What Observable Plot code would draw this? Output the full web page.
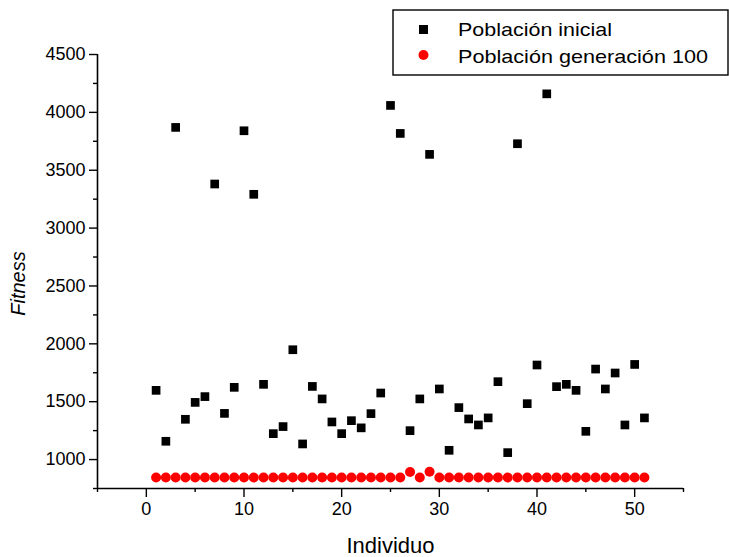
<!DOCTYPE html>
<html><head><meta charset="utf-8">
<script src="https://cdn.jsdelivr.net/npm/d3@7"></script>
<script src="https://cdn.jsdelivr.net/npm/@observablehq/plot@0.6"></script>
<style>body{margin:0;background:#fff;}</style>
</head><body><div id="chart"></div>
<script>
const individuo = [1,2,3,4,5,6,7,8,9,10,11,12,13,14,15,16,17,18,19,20,21,22,23,24,25,26,27,28,29,30,31,32,33,34,35,36,37,38,39,40,41,42,43,44,45,46,47,48,49,50,51];
const poblacionInicial = [1598,1158,3870,1348,1494,1544,3381,1399,1624,3841,3292,1650,1224,1285,1949,1135,1632,1524,1325,1224,1336,1274,1397,1575,4060,3818,1250,1524,3637,1610,1080,1449,1351,1299,1360,1673,1060,3729,1483,1817,4160,1630,1650,1598,1244,1782,1610,1748,1299,1822,1360];
const poblacionGen100 = [845,845,845,845,845,845,845,845,845,845,845,845,845,845,845,845,845,845,845,845,845,845,845,845,845,845,893,845,895,845,845,845,845,845,845,845,845,845,845,845,845,845,845,845,845,845,845,845,845,845,845];
const xMajorTicks = [0,10,20,30,40,50];
const xMinorTicks = [-5,5,15,25,35,45,55];
const yMajorTicks = [1000,1500,2000,2500,3000,3500,4000,4500];
const yMinorTicks = [750,1250,1750,2250,2750,3250,3750,4250];
const seriesNames = ["Población inicial","Población generación 100"];
const xTitle = "Individuo";
const yTitle = "Fitness";

const dataInicial = individuo.map((x,i)=>({x, y: poblacionInicial[i]}));
const dataGen = individuo.map((x,i)=>({x, y: poblacionGen100[i]}));

const plot = Plot.plot({
  width: 729, height: 557,
  marginLeft: 97, marginRight: 46, marginTop: 54, marginBottom: 69,
  style: {fontFamily: "'Liberation Sans', Arial, sans-serif", fontSize: "18px", color: "#000", background: "#fff", overflow: "visible"},
  x: {domain: [-5, 55]},
  y: {domain: [750, 4500]},
  marks: [
    Plot.axisX(xMajorTicks, {tickSize: 9, tickPadding: 5, label: null, strokeWidth: 1.4, tickFormat: d => String(d)}),
    Plot.axisX(xMinorTicks, {tickSize: 4, text: null, label: null, strokeWidth: 1.4}),
    Plot.axisY(yMajorTicks, {tickSize: 8, tickPadding: 4, label: null, strokeWidth: 1.4, tickFormat: d => String(d)}),
    Plot.axisY(yMinorTicks, {tickSize: 4, text: null, label: null, strokeWidth: 1.4}),
    Plot.ruleY([750], {stroke: "#000", strokeWidth: 1.6}),
    Plot.ruleX([-5], {stroke: "#000", strokeWidth: 1.6}),
    Plot.dot(dataInicial, {x: "x", y: "y", symbol: "square", r: 4.9, fill: "#000", stroke: null}),
    Plot.dot(dataGen, {x: "x", y: "y", r: 5, fill: "#ff0000", stroke: null}),
    Plot.text([xTitle], {text: d => d, frameAnchor: "bottom", textAnchor: "middle", lineAnchor: "bottom", dy: 64, fontSize: 22}),
    Plot.text([yTitle], {text: d => d, frameAnchor: "left", textAnchor: "middle", lineAnchor: "middle", dx: -79, dy: 12, rotate: -90, fontStyle: "italic", fontSize: 20})
  ]
});

// legend box (overlapping the top of the plot area, as in the original)
const svg = d3.select(plot);
const lg = svg.append("g")
  .attr("font-family", "'Liberation Sans', Arial, sans-serif")
  .attr("font-size", 19)
  .attr("text-anchor", "start");
lg.append("rect").attr("x", 393).attr("y", 10).attr("width", 335).attr("height", 65)
  .attr("fill", "#fff").attr("stroke", "#000").attr("stroke-width", 1.4);
lg.append("rect").attr("x", 423.5 - 4.5).attr("y", 29.5 - 4.5).attr("width", 9).attr("height", 9).attr("fill", "#000");
lg.append("circle").attr("cx", 423.5).attr("cy", 55).attr("r", 5).attr("fill", "#ff0000");
lg.append("text").attr("x", 458).attr("y", 36).attr("fill", "#000").attr("text-anchor", "start")
  .attr("textLength", 154).attr("lengthAdjust", "spacingAndGlyphs").text(seriesNames[0]);
lg.append("text").attr("x", 458).attr("y", 63).attr("fill", "#000").attr("text-anchor", "start")
  .attr("textLength", 250).attr("lengthAdjust", "spacingAndGlyphs").text(seriesNames[1]);

document.getElementById("chart").appendChild(plot);
</script>
</body></html>
